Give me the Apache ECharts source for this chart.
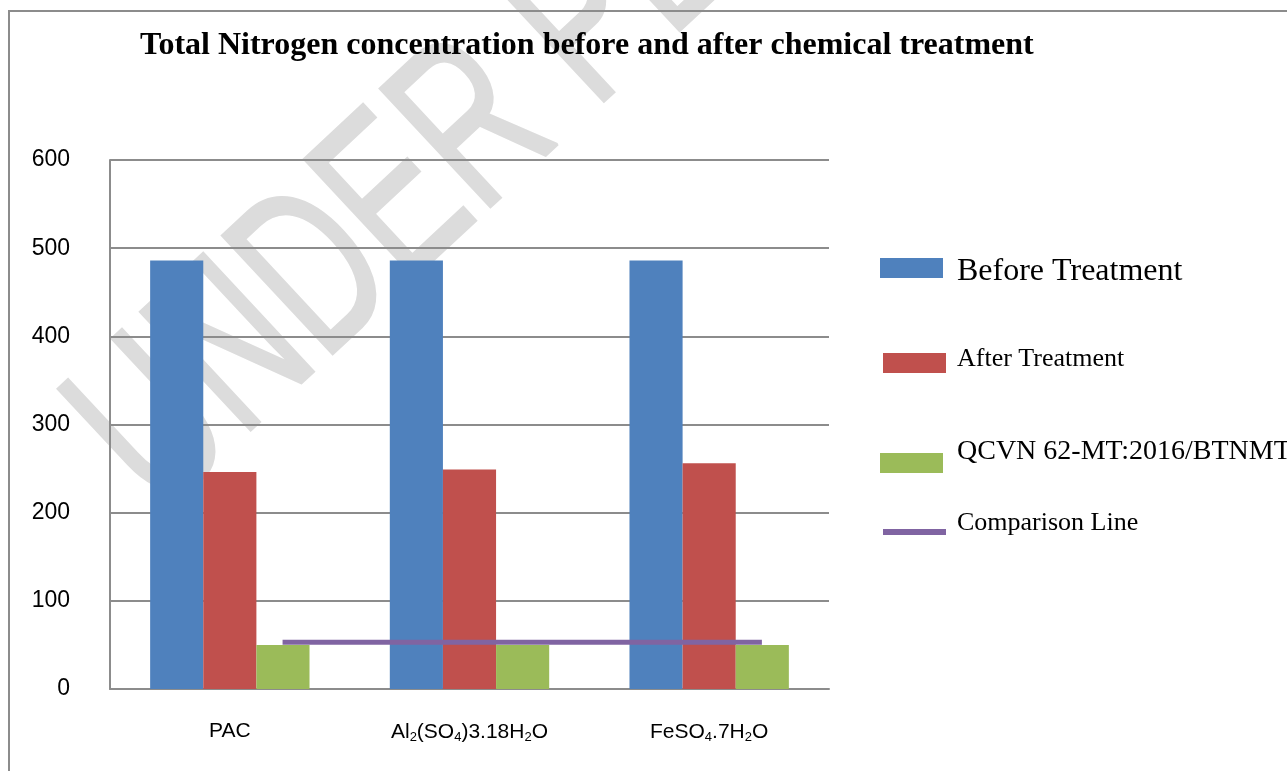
<!DOCTYPE html>
<html>
<head>
<meta charset="utf-8">
<script src="https://cdn.jsdelivr.net/npm/echarts@6/dist/echarts.min.js"></script>
<style>html,body{margin:0;padding:0;background:#fff;}#c{width:1287px;height:771px;}</style>
</head>
<body>
<div id="c"></div>
<script>
const titleText = 'Total Nitrogen concentration before and after chemical treatment';
const categories = ['PAC', 'Al2(SO4)3.18H2O', 'FeSO4.7H2O'];
const beforeTreatment = [486, 486, 486];
const afterTreatment = [246, 249, 256];
const qcvnLimit = [50, 50, 50];
const comparisonX = [0.72, 2.72];
const comparisonY = [53, 53];
const yTicks = { min: 0, max: 600, interval: 100 };
const seriesNames = ['Before Treatment', 'After Treatment', 'QCVN 62-MT:2016/BTNMT', 'Comparison Line'];
const watermarkText = 'UNDER PEER REVIEW';

const chart = echarts.init(document.getElementById('c'));
const grey = '#8c8c8c';
const serif = 'Liberation Serif, Times New Roman, serif';
const sans = 'Liberation Sans, Arial, sans-serif';

function fmtLabel(v) {
  return v.replace(/([A-Za-z])(\d)/g, '$1{s|$2}').split(/(\{s\|\d\})/).map(p => p.startsWith('{s|') ? p : (p ? '{n|' + p + '}' : '')).join('');
}

function legendAt(name, left, top, fontSize, lineHeight, vAlign, padLeft, iconH) {
  return {
    data: [{ name: name, icon: 'rect' }],
    left: left, top: top, orient: 'vertical', padding: 0,
    itemWidth: 63, itemHeight: iconH,
    selectedMode: false,
    formatter: n => '{t|' + n + '}',
    textStyle: {
      fontFamily: serif, fontSize: fontSize, color: '#000', padding: [0, 0, 0, padLeft],
      rich: { t: { fontFamily: serif, fontSize: fontSize, color: '#000', lineHeight: lineHeight, verticalAlign: vAlign } }
    }
  };
}

const option = {
  animation: false,
  backgroundColor: '#fff',
  title: {
    text: titleText, left: 140, top: 30, padding: 0,
    textStyle: { fontFamily: serif, fontWeight: 'bold', fontSize: 32, color: '#000' }
  },
  graphic: [
    {
      type: 'text', z: -10, x: 115, y: 468, rotation: 0.75, scaleX: 0.66,
      style: { text: watermarkText, fontFamily: sans, fontSize: 235, fill: '#dcdcdc', stroke: '#dcdcdc', lineWidth: 3, align: 'left', verticalAlign: 'middle' }
    },
    {
      type: 'rect', z: 10, shape: { x: 9, y: 11, width: 1400, height: 1000 },
      style: { fill: 'none', stroke: grey, lineWidth: 2 }
    }
  ],
  legend: [
    legendAt(seriesNames[0], 880, 256, 32, 40, 'bottom', 9, 20),
    legendAt(seriesNames[1], 883, 346, 26, 34, 'top', 6, 20),
    legendAt(seriesNames[2], 880, 438, 28, 50, 'top', 9, 20),
    legendAt(seriesNames[3], 883, 510, 26, 44, 'top', 6, 6)
  ],
  grid: { left: 110, right: 458, top: 160, bottom: 82, containLabel: false },
  xAxis: [
    {
      type: 'category', data: categories,
      axisLine: { show: true, lineStyle: { color: grey, width: 2 } },
      axisTick: { show: false },
      axisLabel: {
        interval: 0, margin: 32, color: '#000',
        formatter: fmtLabel,
        rich: {
          n: { fontFamily: sans, fontSize: 21, color: '#000' },
          s: { fontFamily: sans, fontSize: 13, color: '#000', padding: [10, 0, 0, 0] }
        }
      }
    },
    { type: 'value', min: 0, max: 3, show: false }
  ],
  yAxis: {
    type: 'value', min: yTicks.min, max: yTicks.max, interval: yTicks.interval,
    axisLine: { show: true, lineStyle: { color: grey, width: 2 } },
    axisTick: { show: false },
    splitLine: { lineStyle: { color: grey, width: 2 } },
    axisLabel: { margin: 40, fontFamily: sans, fontSize: 23, color: '#000' }
  },
  series: [
    { name: seriesNames[0], type: 'bar', data: beforeTreatment, barGap: '0%', barCategoryGap: '33.5%', itemStyle: { color: '#4F81BD' } },
    { name: seriesNames[1], type: 'bar', data: afterTreatment, barGap: '0%', barCategoryGap: '33.5%', itemStyle: { color: '#C0504D' } },
    { name: seriesNames[2], type: 'bar', data: qcvnLimit, barGap: '0%', barCategoryGap: '33.5%', itemStyle: { color: '#9BBB59' } },
    {
      name: seriesNames[3], type: 'line', xAxisIndex: 1, z: 5,
      data: comparisonX.map((x, i) => [x, comparisonY[i]]),
      symbol: 'none', lineStyle: { color: '#8064A2', width: 5 }, itemStyle: { color: '#8064A2' }
    }
  ]
};
chart.setOption(option);
</script>
</body>
</html>
